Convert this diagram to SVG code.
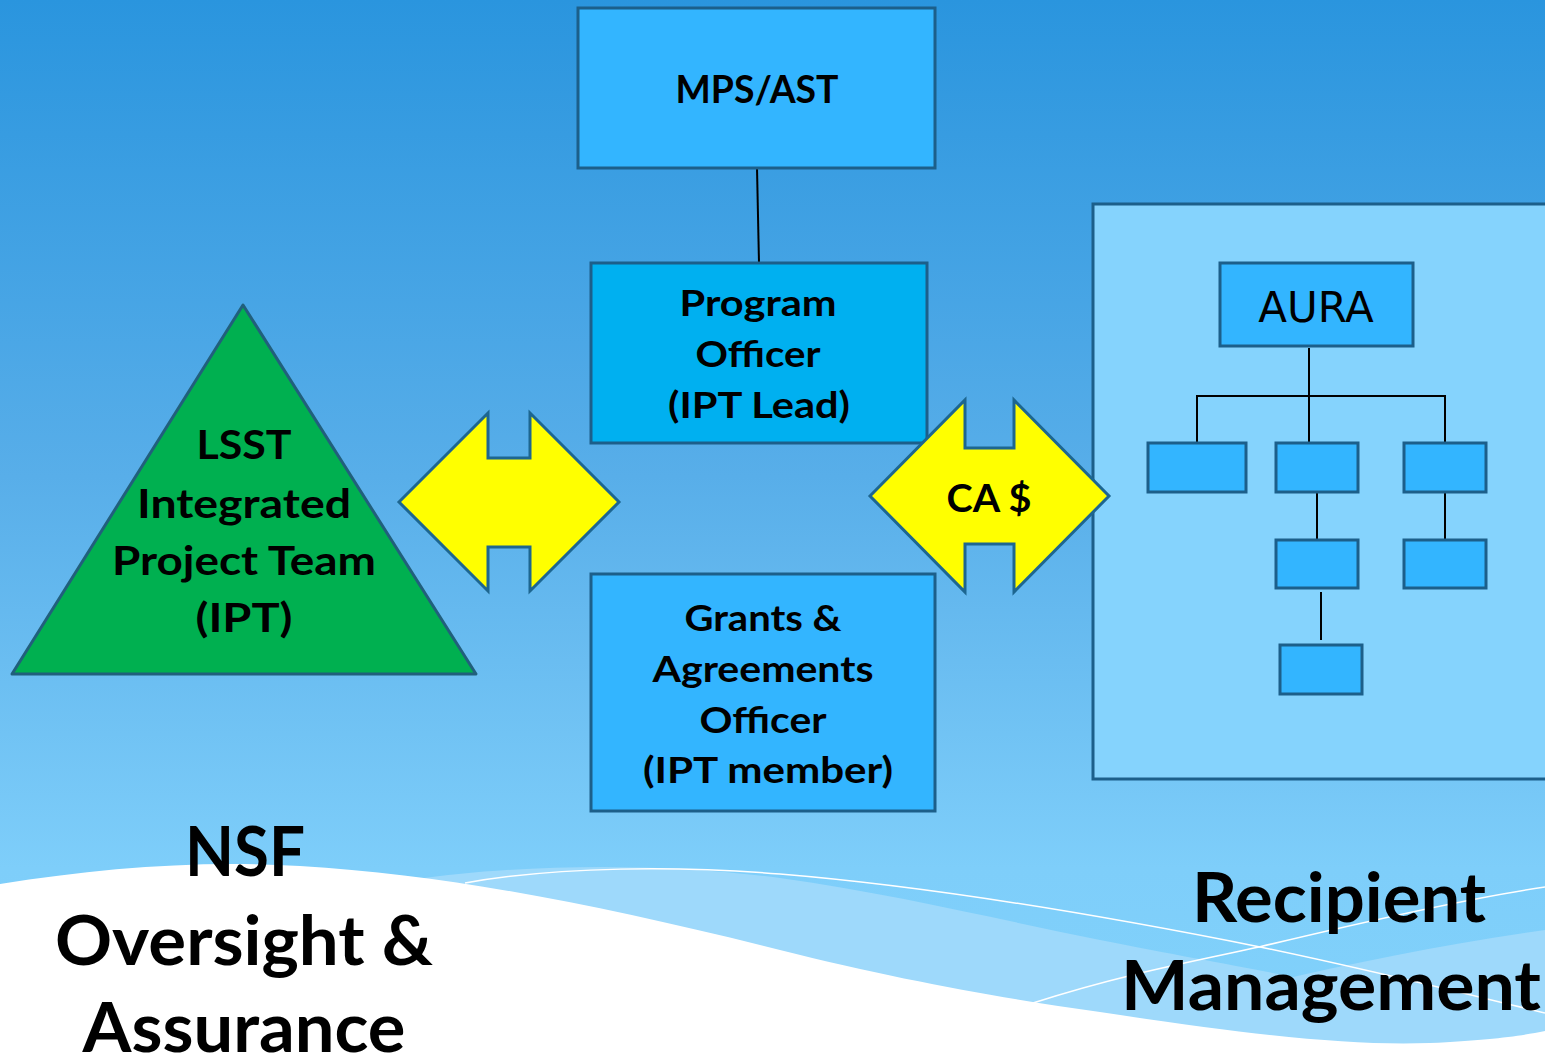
<svg xmlns="http://www.w3.org/2000/svg" width="1545" height="1059" viewBox="0 0 1545 1059">
  <defs>
    <linearGradient id="bg" x1="0" y1="0" x2="0" y2="1">
      <stop offset="0" stop-color="#2a95de"/>
      <stop offset="0.45" stop-color="#58aee9"/>
      <stop offset="0.82" stop-color="#7ecefa"/>
      <stop offset="1" stop-color="#82d2fb"/>
    </linearGradient>
    <style>
      .box { fill: #33b5ff; stroke: #1c5f8a; stroke-width: 3; }
      .box2 { fill: #00b0f0; stroke: #1c5f8a; stroke-width: 3; }
      .small { fill: #33b5ff; stroke: #1c5f8a; stroke-width: 3; }
      .arrow { fill: #ffff00; stroke: #1d6690; stroke-width: 3; stroke-linejoin: miter; }
      .link { stroke: #000; stroke-width: 2; fill: none; }
      .lbl { font-family: Lato, "Open Sans", "Liberation Sans", sans-serif; font-weight: 700; fill: #000; text-anchor: middle; }
      .big { font-family: Lato, "Open Sans", "Liberation Sans", sans-serif; font-weight: 700; fill: #000; text-anchor: middle; font-size: 68px; }
      .wline { fill: none; stroke: #ffffff; stroke-width: 1.5; }
    </style>
  </defs>

  <g id="background">
    <rect x="0" y="0" width="1545" height="1059" fill="url(#bg)"/>
    <path d="M410,880 C 520,864 660,862 780,878 C 900,895 1000,920 1100,940 C 1200,960 1264,970 1330,985 C 1420,1005 1500,1020 1545,1026 L1545,1059 L410,1059 Z" fill="#9ed9fb"/>
    <path d="M1132,1018 C 1250,985 1400,950 1545,930 L1545,1040 L1132,1040 Z" fill="#9ed9fb"/>
    <path d="M0,884 C 100,868 200,860 300,866 C 450,875 600,905 780,950 C 900,980 1000,998 1100,1012 C 1250,1035 1350,1046 1430,1043 C 1490,1040 1520,1036 1545,1031 L1545,1059 L0,1059 Z" fill="#ffffff"/>
    <path class="wline" d="M465,883 C 560,866 680,866 780,874 C 950,888 1150,925 1260,947 C 1380,972 1470,995 1545,1013"/>
    <path class="wline" d="M1033,1003 C 1120,975 1190,962 1259,947 C 1380,918 1470,898 1545,887"/>
  </g>

  <g id="recipient-panel">
    <rect x="1093" y="204" width="470" height="575" fill="#85d3fd" stroke="#1c5f8a" stroke-width="3"/>
  </g>

  <g id="connectors">
    <line class="link" x1="757" y1="168" x2="759" y2="263"/>
    <line class="link" x1="1309" y1="348" x2="1309" y2="443"/>
    <polyline class="link" points="1197,443 1197,396 1445,396 1445,443"/>
    <line class="link" x1="1317" y1="492" x2="1317" y2="540"/>
    <line class="link" x1="1445" y1="492" x2="1445" y2="540"/>
    <line class="link" x1="1321" y1="592" x2="1321" y2="640"/>
  </g>

  <g id="mps-ast">
    <rect class="box" x="578" y="8" width="357" height="160"/>
    <text class="lbl" x="757" y="103" font-size="38" textLength="163" lengthAdjust="spacingAndGlyphs">MPS/AST</text>
  </g>

  <g id="program-officer">
    <rect class="box2" x="591" y="263" width="336" height="180"/>
    <text class="lbl" x="758" y="316" font-size="36" textLength="157" lengthAdjust="spacingAndGlyphs">Program</text>
    <text class="lbl" x="758" y="367" font-size="36" textLength="125" lengthAdjust="spacingAndGlyphs">Officer</text>
    <text class="lbl" x="759" y="418" font-size="36" textLength="182" lengthAdjust="spacingAndGlyphs">(IPT Lead)</text>
  </g>

  <g id="grants-officer">
    <rect class="box" x="591" y="574" width="344" height="237"/>
    <text class="lbl" x="763" y="631" font-size="37" textLength="157" lengthAdjust="spacingAndGlyphs">Grants &amp;</text>
    <text class="lbl" x="763" y="682" font-size="37" textLength="221" lengthAdjust="spacingAndGlyphs">Agreements</text>
    <text class="lbl" x="763" y="733" font-size="37" textLength="127" lengthAdjust="spacingAndGlyphs">Officer</text>
    <text class="lbl" x="768" y="783" font-size="37" textLength="250" lengthAdjust="spacingAndGlyphs">(IPT member)</text>
  </g>

  <g id="ipt-triangle">
    <polygon points="243,305 476,674 12,674" fill="#00b050" stroke="#215f7c" stroke-width="3" stroke-linejoin="round"/>
    <text class="lbl" x="244" y="459" font-size="40" textLength="95" lengthAdjust="spacingAndGlyphs">LSST</text>
    <text class="lbl" x="244" y="518" font-size="40" textLength="214" lengthAdjust="spacingAndGlyphs">Integrated</text>
    <text class="lbl" x="244" y="575" font-size="40" textLength="264" lengthAdjust="spacingAndGlyphs">Project Team</text>
    <text class="lbl" x="244" y="632" font-size="40" textLength="97" lengthAdjust="spacingAndGlyphs">(IPT)</text>
  </g>

  <g id="arrow-ipt">
    <polygon class="arrow" points="399,502 488,413 488,458 530,458 530,413 619,502 530,591 530,547 488,547 488,591"/>
  </g>

  <g id="arrow-ca">
    <polygon class="arrow" points="870,496 965,400 965,448 1014,448 1014,400 1109,496 1014,592 1014,544 965,544 965,592"/>
    <text class="lbl" x="989" y="512" font-size="39" textLength="85" lengthAdjust="spacingAndGlyphs">CA $</text>
  </g>

  <g id="aura">
    <rect class="small" x="1220" y="263" width="193" height="83"/>
    <text x="1316" y="322" font-family="'DejaVu Sans', Verdana, sans-serif" font-size="42" text-anchor="middle" fill="#000">AURA</text>
  </g>
  <g id="org-box-1"><rect class="small" x="1148" y="443" width="98" height="49"/></g>
  <g id="org-box-2"><rect class="small" x="1276" y="443" width="82" height="49"/></g>
  <g id="org-box-3"><rect class="small" x="1404" y="443" width="82" height="49"/></g>
  <g id="org-box-4"><rect class="small" x="1276" y="540" width="82" height="48"/></g>
  <g id="org-box-5"><rect class="small" x="1404" y="540" width="82" height="48"/></g>
  <g id="org-box-6"><rect class="small" x="1280" y="645" width="82" height="49"/></g>

  <g id="nsf-label">
    <text class="big" x="245" y="876" textLength="120" lengthAdjust="spacingAndGlyphs">NSF</text>
    <text class="big" x="244" y="965" textLength="378" lengthAdjust="spacingAndGlyphs">Oversight &amp;</text>
    <text class="big" x="244" y="1052" textLength="323" lengthAdjust="spacingAndGlyphs">Assurance</text>
  </g>

  <g id="recipient-label">
    <text class="big" x="1339" y="922" textLength="294" lengthAdjust="spacingAndGlyphs">Recipient</text>
    <text class="big" x="1331" y="1010" textLength="420" lengthAdjust="spacingAndGlyphs">Management</text>
  </g>
</svg>
